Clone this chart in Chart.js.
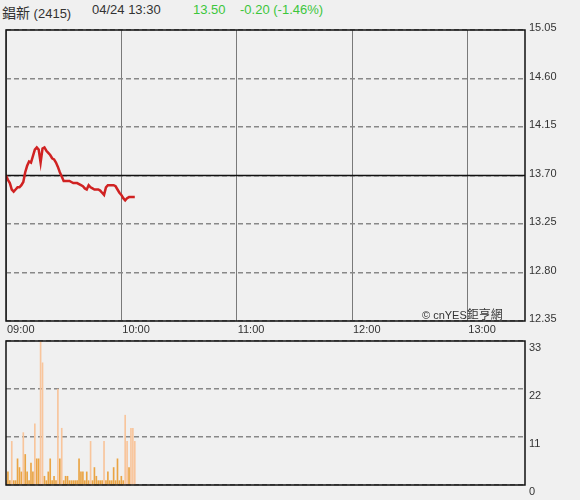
<!DOCTYPE html>
<html>
<head>
<meta charset="utf-8">
<script src="https://cdn.jsdelivr.net/npm/chart.js@4"></script>
<style>
  html, body { margin: 0; padding: 0; background: #f0f0f0; }
  body { width: 580px; height: 500px; position: relative; overflow: hidden;
         font-family: "Liberation Sans", Arial, "Noto Sans CJK TC", sans-serif; color: #333; }
  .hd { position: absolute; top: 2px; font-size: 13px; white-space: nowrap; }
  .hd .cjk { font-size: 14px; }
  .up { color: #3cc63c; }
  #priceBox { position: absolute; left: 0; top: 0; }
  #volBox { position: absolute; left: 0; top: 325px; }
  #mark { position: absolute; left: 422px; top: 305px; font-size: 11px; white-space: nowrap; }
  #mark span { font-size: 12px; }
</style>
</head>
<body>
<div class="hd" style="left:2px"><span class="cjk">錩新</span> (2415)</div>
<div class="hd" style="left:92px">04/24 13:30</div>
<div class="hd up" style="left:193px">13.50</div>
<div class="hd up" style="left:240px">-0.20 (-1.46%)</div>

<div id="priceBox"><canvas id="priceChart" width="580" height="340"></canvas></div>
<div id="volBox"><canvas id="volChart" width="580" height="175"></canvas></div>
<div id="mark">© cnYES<span>鉅亨網</span></div>

<script>
// ------- Data (one point per minute from 09:00) ---------------------------
const PREV_CLOSE = 13.70;
const SESSION_MIN = 270;                       // 09:00 → 13:30

const PRICE = [
  13.70, 13.66, 13.63, 13.57, 13.55, 13.57, 13.59, 13.59, 13.61, 13.64,
  13.73, 13.79, 13.83, 13.82, 13.88, 13.94, 13.96, 13.94, 13.82, 13.95,
  13.96, 13.93, 13.91, 13.89, 13.86, 13.85, 13.82, 13.78, 13.73, 13.69,
  13.65, 13.65, 13.65, 13.65, 13.64, 13.63, 13.63, 13.63, 13.62, 13.61,
  13.60, 13.58, 13.57, 13.61, 13.59, 13.58, 13.57, 13.57, 13.57, 13.56,
  13.54, 13.52, 13.59, 13.61, 13.61, 13.61, 13.61, 13.60, 13.57, 13.54,
  13.52, 13.49, 13.47, 13.49, 13.50, 13.50, 13.50, 13.50
];

const VOLUME = [
   1,  3,  1, 10,  1,  1,  6,  4,  3, 12,
   7,  3,  1,  5,  3, 14,  6,  6, 33, 28,
   2,  1,  3,  6,  1,  2,  1, 22,  6, 13,
   1,  2,  2,  1,  1,  1,  1,  1,  6,  3,
   3,  1,  3,  1, 10,  1,  4,  2,  1,  1,
   1, 10,  1,  3,  1,  1,  4,  1,  6,  1,
   2,  1, 16, 10,  4, 13, 13, 10
];

const HOUR_TICKS  = [0, 60, 120, 180, 240];
const HOUR_LABELS = ['09:00', '10:00', '11:00', '12:00', '13:00'];
const PRICE_TICKS = [12.35, 12.80, 13.25, 13.70, 14.15, 14.60, 15.05];
const VOL_TICKS   = [0, 11, 22, 33];

// ---------------------------------------------------------------------------

const FONT = { family: '"Liberation Sans", Arial, sans-serif', size: 11 };
const TXT  = '#333';

// black frame round the plot area
const frame = {
  id: 'frame',
  afterDatasetsDraw (chart) {
    const { ctx, chartArea: a } = chart;
    ctx.save();
    ctx.strokeStyle = '#111';
    ctx.lineWidth = 1.5;
    ctx.strokeRect(a.left, a.top, a.right - a.left, a.bottom - a.top);
    ctx.restore();
  }
};

new Chart(document.getElementById('priceChart'), {
  type: 'line',
  data: { datasets: [
    {
      data: PRICE.map((p, i) => ({ x: i, y: p })),
      borderColor: '#d02222',
      borderWidth: 2.5,
      pointRadius: 0,
      tension: 0
    },
    {
      // reference price line
      data: [{ x: 0, y: PREV_CLOSE }, { x: SESSION_MIN, y: PREV_CLOSE }],
      borderColor: '#111',
      borderWidth: 1.5,
      pointRadius: 0
    }
  ]},
  options: {
    responsive: false,
    animation: false,
    layout: { padding: { left: 6, top: 30 } },
    plugins: { legend: { display: false }, tooltip: { enabled: false } },
    scales: {
      x: {
        type: 'linear',
        min: 0,
        max: SESSION_MIN,
        afterBuildTicks: s => { s.ticks = HOUR_TICKS.map(v => ({ value: v })); },
        afterFit: s => { s.height = 19; },
        grid: { color: '#7a7a7a', lineWidth: 1, drawTicks: false },
        border: { display: false },
        ticks: {
          autoSkip: false, maxRotation: 0, align: 'start',
          padding: 2, labelOffset: 1, font: FONT, color: TXT,
          callback: (v, i) => HOUR_LABELS[i]
        }
      },
      y: {
        position: 'right',
        min: PRICE_TICKS[0],
        max: PRICE_TICKS[PRICE_TICKS.length - 1],
        afterBuildTicks: s => { s.ticks = PRICE_TICKS.map(v => ({ value: v })); },
        afterFit: s => { s.width = 55; },
        grid: { color: '#888', lineWidth: 1.5, drawTicks: false },
        border: { display: false, dash: [5, 3] },
        ticks: {
          padding: 4, labelOffset: -2, font: FONT, color: TXT,
          callback: v => v.toFixed(2)
        }
      }
    }
  },
  plugins: [frame]
});

new Chart(document.getElementById('volChart'), {
  type: 'bar',
  data: { datasets: [{
    data: VOLUME.map((v, i) => ({ x: i, y: v })),
    backgroundColor: c => (c.raw && c.raw.y > 8 ? '#f8c59c' : '#eaa444'),
    barThickness: 1,
    borderWidth: 0
  }]},
  options: {
    responsive: false,
    animation: false,
    layout: { padding: { left: 6, top: 16, bottom: 15 } },
    plugins: { legend: { display: false }, tooltip: { enabled: false } },
    scales: {
      x: { type: 'linear', min: 0, max: SESSION_MIN, offset: false, display: false },
      y: {
        position: 'right',
        min: 0,
        max: 33,
        afterBuildTicks: s => { s.ticks = VOL_TICKS.map(v => ({ value: v })); },
        afterFit: s => { s.width = 55; },
        grid: { color: '#888', lineWidth: 1.5, drawTicks: false },
        border: { display: false, dash: [5, 3] },
        ticks: { padding: 4, labelOffset: 7, font: FONT, color: TXT }
      }
    }
  },
  plugins: [frame]
});
</script>
</body>
</html>
